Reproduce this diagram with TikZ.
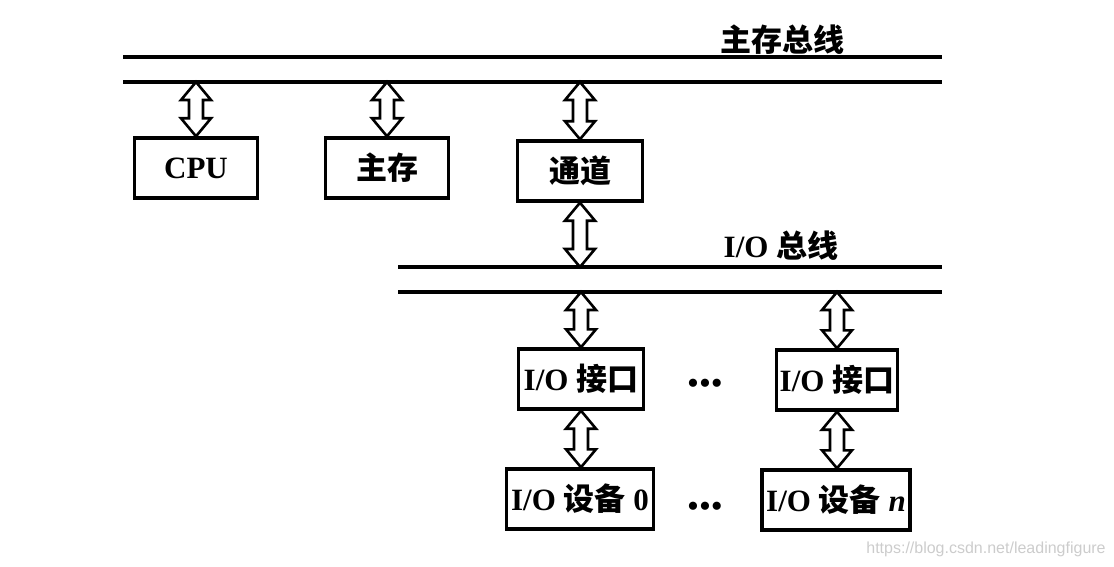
\documentclass[tikz,border=0pt]{standalone}
\usepackage{fontspec}
\setmainfont{Liberation Serif}
\setsansfont{Liberation Sans}
\newfontfamily\cjk{Noto Sans CJK SC}
\usetikzlibrary{calc}
\newcommand\zh[1]{{\cjk\bfseries #1}}
% hollow double-headed arrow, #1 top end, #2 bottom end
\newcommand\dblarrow[2]{\draw[hollow] let \p1=(#1), \p2=(#2) in
  (\x1,\y1) -- (\x1-15pt,\y1-18pt) -- (\x1-7pt,\y1-18pt) -- (\x1-7pt,\y2+18pt)
  -- (\x1-15pt,\y2+18pt) -- (\x1,\y2) -- (\x1+15pt,\y2+18pt) -- (\x1+7pt,\y2+18pt)
  -- (\x1+7pt,\y1-18pt) -- (\x1+15pt,\y1-18pt) -- cycle;}

\begin{document}
\begin{tikzpicture}[x=1pt,y=-1pt,
    box/.style={draw,line width=3.4pt,minimum height=60pt,inner sep=0pt,
      font=\fontsize{31}{36}\selectfont\bfseries},
    lbl/.style={font=\fontsize{31}{36}\selectfont\bfseries},
    bus/.style={line width=3.2pt},
    hollow/.style={line width=2.6pt,fill=white,line join=miter}]
  \useasboundingbox (0,0) rectangle (1114,567);
  % buses
  \draw[bus] (123,57) coordinate (ma) -- (942,57);
  \draw[bus] (123,82) coordinate (mb) -- (942,82);
  \draw[bus] (398,267) coordinate (ia) -- (942,267);
  \draw[bus] (398,292) coordinate (ib) -- (942,292);
  \node[lbl] (mlbl) at (782,40) {\zh{主存总线}};
  \node[lbl] (iolbl) at (781,246) {I/O \zh{总线}};
  % units
  \node[box,minimum width=123pt] (cpu) at (196,168) {CPU};
  \node[box,minimum width=123pt] (mem) at (387,168) {\zh{主存}};
  \node[box,minimum width=125pt] (chan) at (580,171) {\zh{通道}};
  \node[box,minimum width=125pt] (ifa) at (581,379) {I/O \zh{接口}};
  \node[box,minimum width=121pt] (ifb) at (837,380) {I/O \zh{接口}};
  \node[box,minimum width=147pt] (deva) at (580,499) {I/O \zh{设备} 0};
  \node[box,minimum width=148pt] (devb) at (836,500) {I/O \zh{设备} \textit{n}};
  \node[lbl,font=\fontsize{34}{36}\selectfont] (dotsa) at (705,387) {•••};
  \node[lbl,font=\fontsize{34}{36}\selectfont] (dotsb) at (705,510) {•••};
  % links
  \dblarrow{cpu.north |- mb}{cpu.north}
  \dblarrow{mem.north |- mb}{mem.north}
  \dblarrow{chan.north |- mb}{chan.north}
  \dblarrow{chan.south}{chan.south |- ia}
  \dblarrow{ifa.north |- ib}{ifa.north}
  \dblarrow{ifb.north |- ib}{ifb.north}
  \dblarrow{ifa.south}{deva.north}
  \dblarrow{ifb.south}{devb.north}
  \node[text=black!20,font=\sffamily\fontsize{16}{20}\selectfont] (wm) at (986,549)
    {https://blog.csdn.net/leadingfigure};
\end{tikzpicture}
\end{document}
